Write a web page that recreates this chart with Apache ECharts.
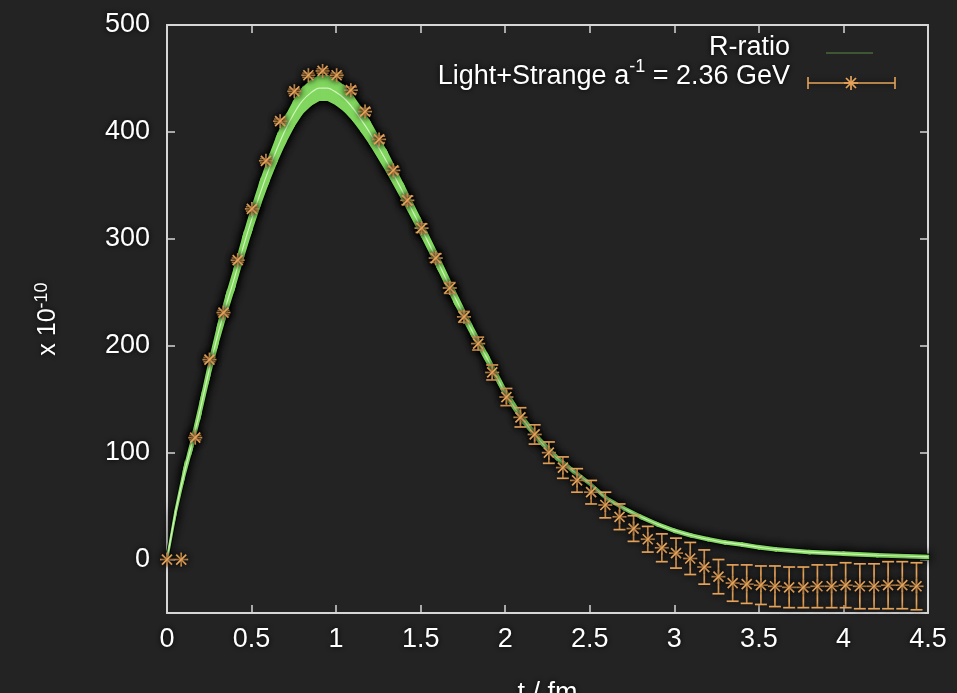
<!DOCTYPE html>
<html>
<head>
<meta charset="utf-8">
<script src="https://cdn.jsdelivr.net/npm/echarts@6/dist/echarts.min.js"></script>
<style>
  html, body { margin: 0; padding: 0; background: #232323; }
  #chart { width: 957px; height: 693px; }
</style>
</head>
<body>
<div id="chart"></div>
<script>
// Lattice correlator contribution, Light+Strange, a^-1 = 2.36 GeV
const latticeTimes = [
  0.000, 0.084, 0.167, 0.251, 0.334, 0.418, 0.502, 0.585, 0.669, 0.753,
  0.836, 0.920, 1.003, 1.087, 1.171, 1.254, 1.338, 1.421, 1.505, 1.589,
  1.672, 1.756, 1.840, 1.923, 2.007, 2.090, 2.174, 2.258, 2.341, 2.425,
  2.508, 2.592, 2.676, 2.759, 2.843, 2.926, 3.010, 3.094, 3.177, 3.261,
  3.345, 3.428, 3.512, 3.595, 3.679, 3.763, 3.846, 3.930, 4.013, 4.097,
  4.181, 4.264, 4.348, 4.432
];
const latticeValues = [
  0, 0, 114, 187, 231, 280, 328, 373, 410, 438,
  453, 457, 453, 439, 419, 393, 364, 336, 310, 282,
  254, 227, 202, 175, 152, 133, 117, 100, 86, 74,
  63, 51, 40, 29, 19, 11, 6, 1, -7, -16,
  -22, -23, -24, -25, -26, -26, -25, -25, -24, -25,
  -25, -24, -24, -25
];
const latticeErrors = [
  0, 0, 2, 2, 2, 2, 2, 2, 2, 2,
  2, 2, 2, 3, 3, 3, 3, 4, 4, 4,
  5, 5, 6, 7, 8, 9, 9, 10, 10, 11,
  11, 12, 12, 12, 12, 13, 14, 15, 16, 16,
  17, 18, 18, 19, 19, 19, 20, 20, 21, 21,
  21, 22, 22, 22
];

// R-ratio prediction: central curve and half-width of its uncertainty band
const ratioTimes = [
  0, 0.05, 0.1, 0.15, 0.2, 0.25, 0.3, 0.35, 0.4, 0.45,
  0.5, 0.55, 0.6, 0.65, 0.7, 0.75, 0.8, 0.85, 0.9, 0.95,
  1.0, 1.05, 1.1, 1.15, 1.2, 1.3, 1.4, 1.5, 1.6, 1.7,
  1.8, 1.9, 2.0, 2.1, 2.2, 2.3, 2.4, 2.5, 2.6, 2.7,
  2.8, 2.9, 3.0, 3.1, 3.2, 3.3, 3.4, 3.5, 3.6, 3.8,
  4.0, 4.2, 4.5
];
const ratioCentral = [
  0, 44, 80, 110, 143, 178, 210, 238, 264, 292,
  318, 342, 364, 384, 402, 417, 429, 436.5, 441, 441,
  437, 431, 422, 411, 399, 372, 342, 311, 279, 246,
  215, 186, 156, 132, 112, 96, 83, 71, 57, 48,
  40, 33, 27, 22.5, 19, 16, 14, 11.5, 9.5, 7,
  5.5, 4, 2.5
];
const ratioHalfWidth = [
  0, 1.5, 3, 4, 5, 6, 7, 7.5, 8, 8.5,
  9, 9.5, 10, 10.5, 11, 11, 11, 11, 11, 11,
  11, 11, 10.5, 10, 9.5, 8.5, 7, 6, 5.5, 5,
  4, 3.5, 3, 2.5, 2, 1.5, 1.2, 1, 1, 1,
  1, 1, 1, 1, 1, 1, 1, 1, 1, 1,
  1, 1, 1
];

const yTickValues = [0, 100, 200, 300, 400, 500];

const FONT = '"Liberation Sans", Arial, sans-serif';
const AXIS_COLOR = '#d6d6d6';
const STAR_COLOR = '#e6a35a';
const BAND_COLOR = '#80d65e';
const LINE_COLOR = '#d2f4bd';

const textHalo = { textShadowColor: '#000', textShadowBlur: 5 };

// each band item spans one interval: [t0, lo0, hi0, t1, lo1, hi1]
const bandSegments = [];
for (let i = 0; i + 1 < ratioTimes.length; i++) {
  bandSegments.push([
    ratioTimes[i], ratioCentral[i] - ratioHalfWidth[i], ratioCentral[i] + ratioHalfWidth[i],
    ratioTimes[i + 1], ratioCentral[i + 1] - ratioHalfWidth[i + 1], ratioCentral[i + 1] + ratioHalfWidth[i + 1]
  ]);
}
const bandCentral = ratioTimes.map((t, i) => [t, ratioCentral[i]]);
const latticeData = latticeTimes.map((t, i) => [t, latticeValues[i], latticeErrors[i]]);

function bandRenderer(withHalo) {
  return function (params, api) {
    const a = api.coord([api.value(0), api.value(1)]);
    const b = api.coord([api.value(0), api.value(2)]);
    const c = api.coord([api.value(3), api.value(5)]);
    const d = api.coord([api.value(3), api.value(4)]);
    const style = withHalo
      ? { fill: '#000', stroke: '#000', lineWidth: 4, shadowColor: '#000', shadowBlur: 9 }
      : { fill: BAND_COLOR, stroke: BAND_COLOR, lineWidth: 2.4 };
    return { type: 'polygon', shape: { points: [a, b, c, d] }, style };
  };
}

// error bar with an asterisk marker at the central value
function drawErrorStar(params, api) {
  const t = api.value(0), v = api.value(1), e = api.value(2);
  const c = api.coord([t, v]);
  const top = api.coord([t, v + e]);
  const bot = api.coord([t, v - e]);
  const cap = 6, s = 7, d = 5;
  const style = {
    stroke: STAR_COLOR, lineWidth: 1.7, fill: null,
    shadowColor: 'rgba(0,0,0,0.95)', shadowBlur: 6
  };
  const seg = (x1, y1, x2, y2) => ({
    type: 'line', shape: { x1, y1, x2, y2 }, style
  });
  const children = [];
  if (e > 0) {
    children.push(seg(c[0], top[1], c[0], bot[1]));
    children.push(seg(c[0] - cap, top[1], c[0] + cap, top[1]));
    children.push(seg(c[0] - cap, bot[1], c[0] + cap, bot[1]));
  }
  children.push(seg(c[0] - s, c[1], c[0] + s, c[1]));
  children.push(seg(c[0], c[1] - s, c[0], c[1] + s));
  children.push(seg(c[0] - d, c[1] - d, c[0] + d, c[1] + d));
  children.push(seg(c[0] - d, c[1] + d, c[0] + d, c[1] - d));
  return { type: 'group', children };
}

const chart = echarts.init(document.getElementById('chart'), null, { renderer: 'canvas' });

const baseAxisLine = { show: true, onZero: false, lineStyle: { color: AXIS_COLOR, width: 2 } };
const baseTick = { show: true, inside: true, length: 8, lineStyle: { color: AXIS_COLOR, width: 1.5 } };

chart.setOption({
  backgroundColor: '#232323',
  animation: false,
  grid: { left: 167, right: 29, top: 25, bottom: 80, outerBoundsMode: 'none', containLabel: false },
  xAxis: [
    {
      type: 'value', min: 0, max: 4.5, interval: 0.5, position: 'bottom',
      name: 't / fm', nameLocation: 'middle', nameGap: 67,
      nameTextStyle: { color: '#fff', fontFamily: FONT, fontSize: 27, ...textHalo },
      axisLine: baseAxisLine, axisTick: baseTick, splitLine: { show: false },
      axisLabel: {
        color: '#fff', fontFamily: FONT, fontSize: 27, margin: 13, ...textHalo,
        formatter: v => String(v)
      }
    },
    {
      type: 'value', min: 0, max: 4.5, interval: 0.5, position: 'top',
      axisLine: baseAxisLine, axisTick: baseTick, splitLine: { show: false },
      axisLabel: { show: false }
    }
  ],
  yAxis: [
    {
      type: 'value', min: -50, max: 500, position: 'left',
      name: 'x 10{sup|-10}', nameLocation: 'middle', nameGap: 104, nameRotate: 90,
      nameTextStyle: {
        color: '#fff', fontFamily: FONT, fontSize: 25, ...textHalo,
        rich: {
          sup: { color: '#fff', fontFamily: FONT, fontSize: 18, verticalAlign: 'bottom',
                 padding: [0, 0, 12, 0], ...textHalo }
        }
      },
      axisLine: baseAxisLine,
      axisTick: { ...baseTick, customValues: yTickValues },
      splitLine: { show: false },
      axisLabel: {
        color: '#fff', fontFamily: FONT, fontSize: 27, margin: 17, ...textHalo,
        customValues: yTickValues
      }
    },
    {
      type: 'value', min: -50, max: 500, position: 'right',
      axisLine: baseAxisLine,
      axisTick: { ...baseTick, customValues: yTickValues },
      splitLine: { show: false },
      axisLabel: { show: false, customValues: yTickValues }
    }
  ],
  series: [
    {
      name: 'R-ratio halo', type: 'custom', data: bandSegments,
      renderItem: bandRenderer(true), silent: true, z: 1,
      encode: { x: [0, 3], y: [1, 2, 4, 5] }
    },
    {
      name: 'R-ratio band', type: 'custom', data: bandSegments,
      renderItem: bandRenderer(false), silent: true, z: 2,
      encode: { x: [0, 3], y: [1, 2, 4, 5] }
    },
    {
      name: 'R-ratio', type: 'line', data: bandCentral,
      smooth: 0.3, symbol: 'none',
      lineStyle: { color: LINE_COLOR, width: 1.2 },
      silent: true, z: 3
    },
    {
      name: 'Light+Strange', type: 'custom', data: latticeData,
      renderItem: drawErrorStar, z: 4, clip: false,
      encode: { x: 0, y: 1 }
    }
  ],
  graphic: [
    {
      type: 'text', right: 957 - 790, top: 34, z: 10,
      style: { text: 'R-ratio', fill: '#fff', font: '27px ' + FONT, ...textHalo }
    },
    {
      type: 'line', z: 10,
      shape: { x1: 826, y1: 53, x2: 873, y2: 53 },
      style: { stroke: '#5c8a45', lineWidth: 1 }
    },
    {
      type: 'text', right: 957 - 790, top: 58, z: 10,
      style: {
        text: '{n|Light+Strange a}{sup|-1}{n| = 2.36 GeV}',
        fill: '#fff', font: '27px ' + FONT,
        rich: {
          n: { fill: '#fff', fontSize: 27, fontFamily: FONT, verticalAlign: 'bottom', ...textHalo },
          sup: { fill: '#fff', fontSize: 18, fontFamily: FONT, verticalAlign: 'bottom',
                 padding: [0, 0, 14, 0], ...textHalo }
        }
      }
    },
    {
      type: 'group', z: 10,
      children: [
        { type: 'line', shape: { x1: 808, y1: 83, x2: 895, y2: 83 },
          style: { stroke: STAR_COLOR, lineWidth: 1.6, shadowColor: '#000', shadowBlur: 6 } },
        { type: 'line', shape: { x1: 808, y1: 77, x2: 808, y2: 89 },
          style: { stroke: STAR_COLOR, lineWidth: 1.6 } },
        { type: 'line', shape: { x1: 895, y1: 77, x2: 895, y2: 89 },
          style: { stroke: STAR_COLOR, lineWidth: 1.6 } },
        { type: 'line', shape: { x1: 844, y1: 83, x2: 858, y2: 83 },
          style: { stroke: STAR_COLOR, lineWidth: 1.7 } },
        { type: 'line', shape: { x1: 851, y1: 76, x2: 851, y2: 90 },
          style: { stroke: STAR_COLOR, lineWidth: 1.7 } },
        { type: 'line', shape: { x1: 846, y1: 78, x2: 856, y2: 88 },
          style: { stroke: STAR_COLOR, lineWidth: 1.7 } },
        { type: 'line', shape: { x1: 846, y1: 88, x2: 856, y2: 78 },
          style: { stroke: STAR_COLOR, lineWidth: 1.7 } }
      ]
    }
  ]
});
</script>
</body>
</html>
